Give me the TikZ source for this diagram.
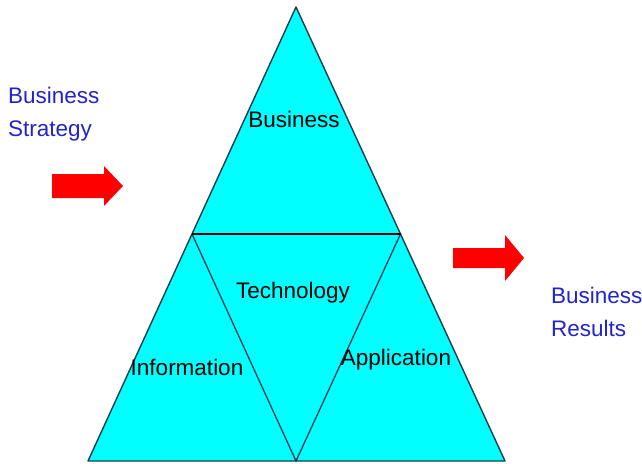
\documentclass[tikz,border=0pt]{standalone}
\usepackage{fontspec}
\setmainfont{Liberation Sans}
\definecolor{pyrfill}{RGB}{0,255,255}
\definecolor{pyredge}{RGB}{25,60,80}
\definecolor{labelblue}{RGB}{35,35,205}
\begin{document}
\begin{tikzpicture}[x=1pt,y=-1pt,
    lbl/.style={font=\fontsize{22.5}{33}\selectfont,inner sep=0pt},
    sidelbl/.style={lbl,text=labelblue,align=left,anchor=base west}]
        \useasboundingbox (0,0) rectangle (642,463);
        \coordinate (apex) at (296,7);
        \coordinate (bl) at (88,461);
        \coordinate (br) at (505,461);
        \coordinate (ml) at (192,234);
        \coordinate (mr) at (400.5,234);
        \coordinate (bm) at (296,461);
        \filldraw[fill=pyrfill,draw=pyredge,line width=1.4pt,line join=round] (apex) -- (br) -- (bl) -- cycle;
        \draw[pyredge,line width=1.3pt] (ml) -- (bm) -- (mr);
        \draw[black,line width=2.4pt] (ml) -- (mr);
        \node[lbl,anchor=base] (bus) at (294,127) {Business};
        \node[lbl,anchor=base] (tech) at (293,298) {Technology};
        \node[lbl,anchor=base] (info) at (187,375) {Information};
        \node[lbl,anchor=base] (appl) at (396,365) {Application};
        \node[sidelbl] (strat) at (8,136) {Business\\Strategy};
        \node[sidelbl] (res) at (551,336) {Business\\Results};
        \fill[red] (52,174) -- (104,174) -- (104,166) -- (123,186) -- (104,206) -- (104,198) -- (52,198) -- cycle;
        \fill[red] (453,248) -- (505,248) -- (505,235) -- (524,258) -- (505,281) -- (505,268) -- (453,268) -- cycle;
    \end{tikzpicture}
\end{document}
